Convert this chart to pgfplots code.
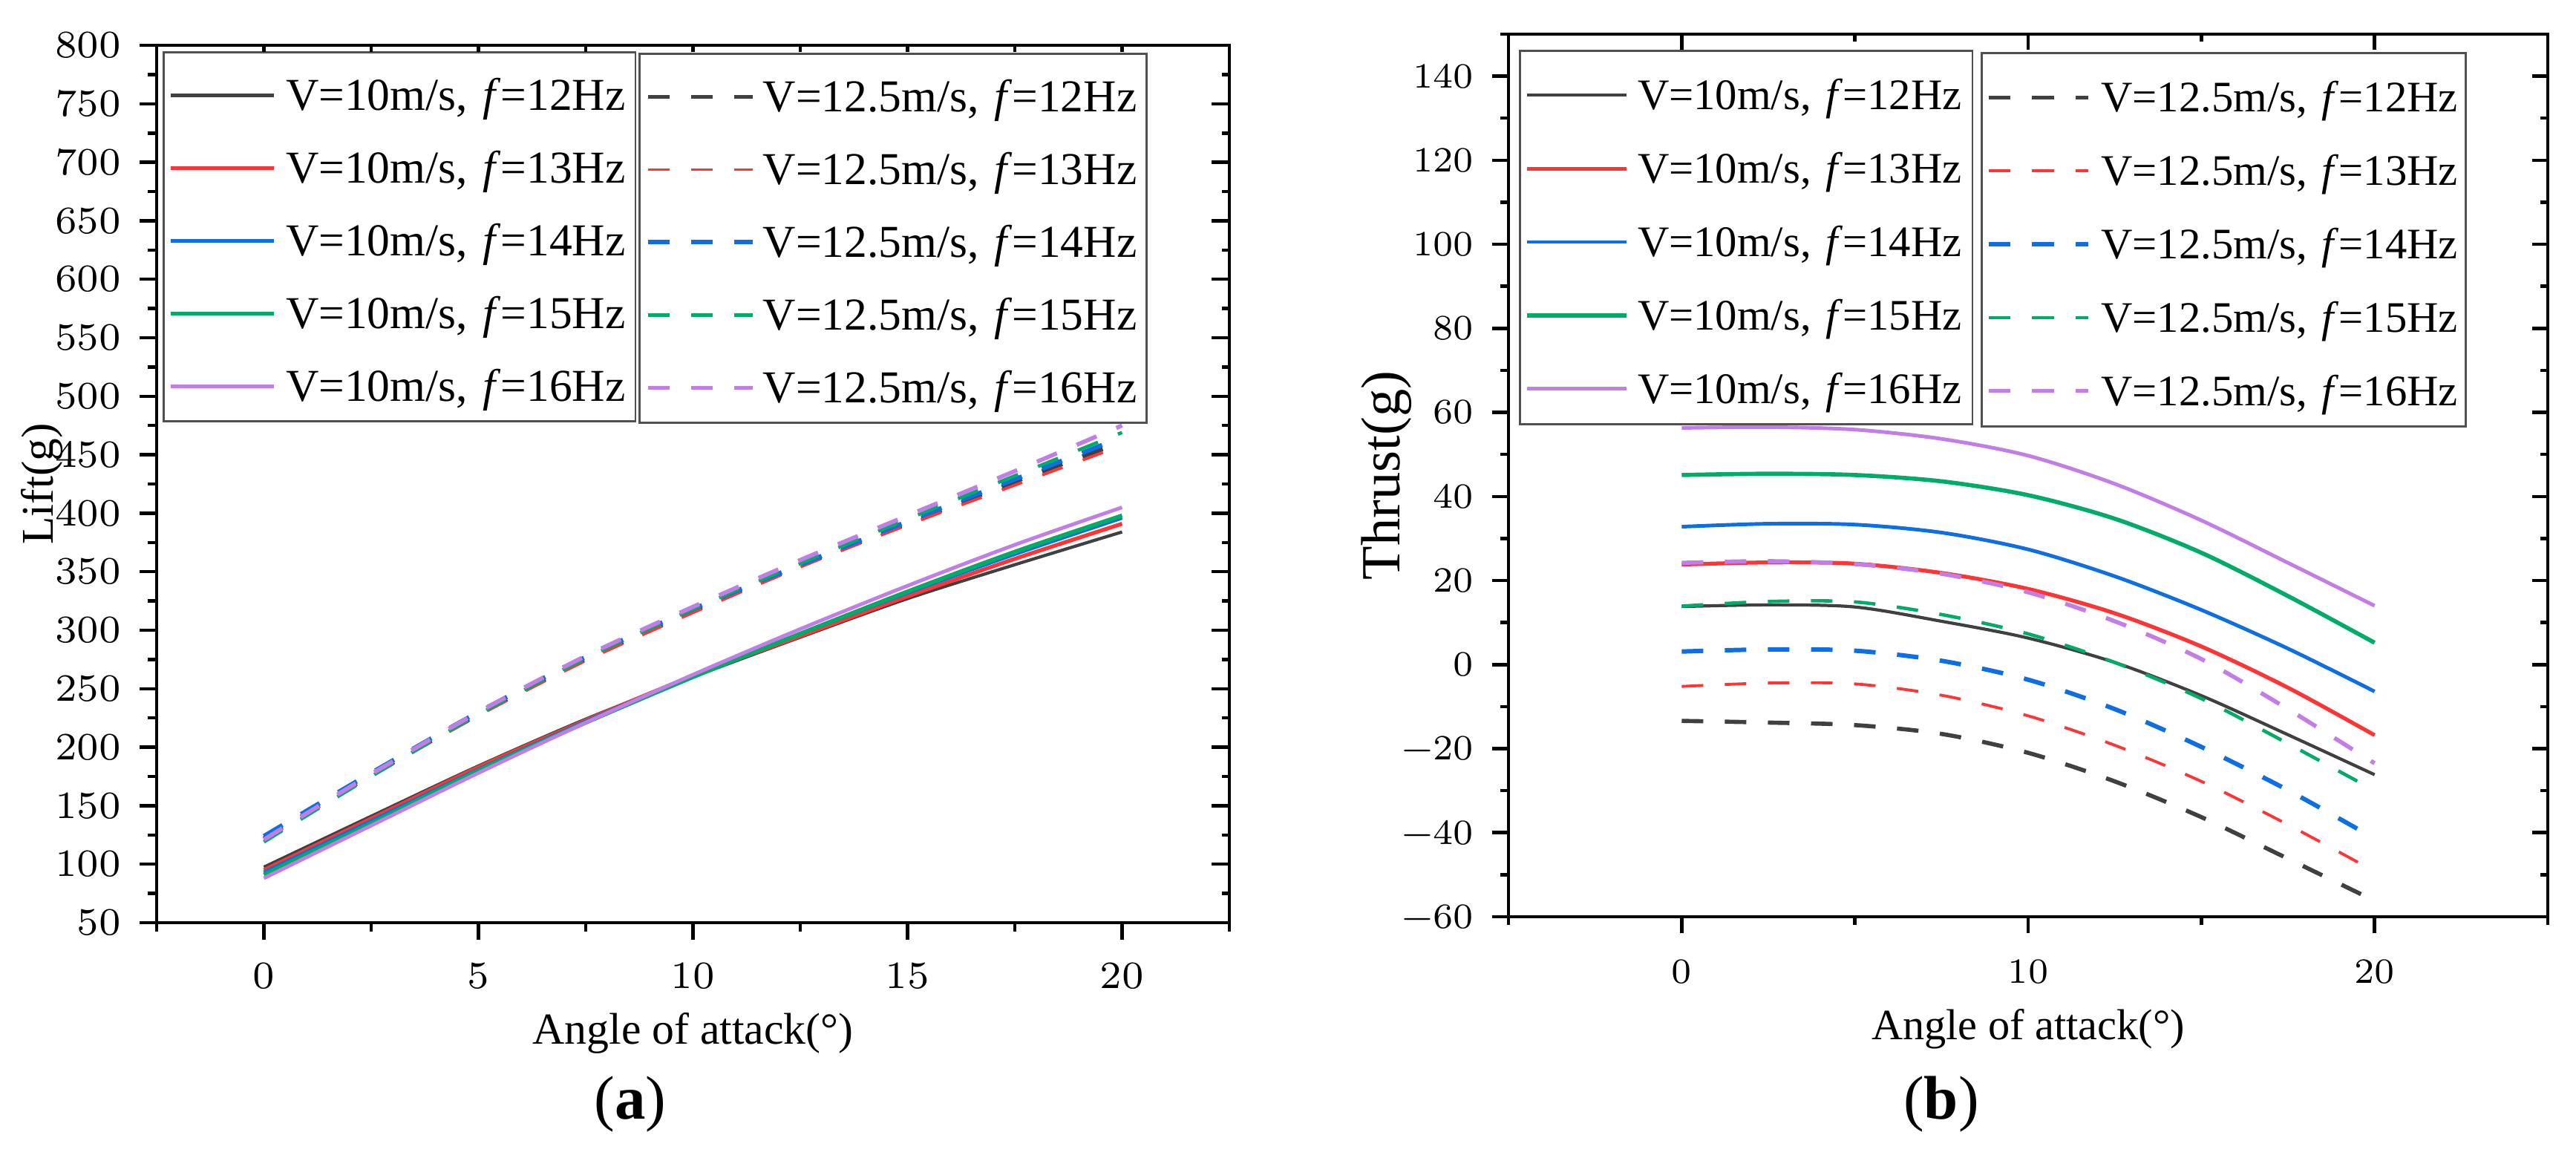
\documentclass[border=0pt]{standalone}
\usepackage{fix-cm}
\usepackage{pgfplots}
\usepackage{pgfplotstable}
\pgfplotsset{compat=1.18}
\usepackage[no-math]{fontspec}
\setmainfont{Liberation Serif}
\newcommand{\lmtick}{\fontfamily{lmr}\selectfont}

\definecolor{cgray}{HTML}{404040}
\definecolor{cred}{HTML}{FF3535}
\definecolor{cblue}{HTML}{0D6FE3}
\definecolor{cgreen}{HTML}{00AC68}
\definecolor{cpurple}{HTML}{C27EE6}
\definecolor{legframe}{HTML}{505050}

\pgfplotstableread{
a s12 s13 s14 s15 s16 d12 d13 d14 d15 d16
0 97.5 95 93 91 88 122 120 124 119 121
2.5 141 139 137 135 133 176 175 178 175 177
5 184 183 181 180 178 228 227 230 228 230
7.5 224 223 222 221 221 275 274 277 276 278
10 260 261 261 260 262 316 315 318 318 320
12.5 294 295 297 297 301 355 354 356 357 360
15 327 329 332 333 338 391 390 393 395 398
17.5 356 361 365 367 373 427 424 429 432 436
20 384 391 396 398 405 461 458 465 469 475
}\lifttable

\pgfplotstableread{
a s12 s13 s14 s15 s16 d12 d13 d14 d15 d16
0 13.8 23.8 32.8 45.1 56.3 -13.4 -5.2 3.1 13.9 24.2
2.5 14.2 24.3 33.5 45.4 56.5 -13.8 -4.4 3.6 15.0 24.6
5 13.7 24.0 33.3 45.1 55.9 -14.4 -4.6 3.3 14.9 23.9
7.5 10.3 21.8 31.4 43.6 53.7 -16.5 -7.3 0.9 11.9 21.6
10 6.3 18.0 27.4 40.3 49.7 -21.0 -12.2 -3.6 7.3 17.2
12.5 0.5 12.2 21.0 34.7 43.0 -27.8 -19.2 -10.6 0.5 10.3
15 -7.4 4.3 13.0 26.6 34.3 -36.3 -27.8 -19.6 -8.1 1.3
17.5 -16.7 -5.5 3.8 16.3 24.2 -46.2 -38.1 -29.9 -18.8 -10.6
20 -26.2 -16.8 -6.4 5.2 14.0 -56.2 -49.2 -41.4 -30.0 -23.5
}\thrusttable

\pgfplotsset{
  base/.style={scale only axis, axis line style={line width=0.65pt,black},
    tick style={line width=0.65pt,black}},
  s12/.style={cgray,line width=0.6pt,smooth},
  s13/.style={cred,line width=0.75pt,smooth},
  s14/.style={cblue,line width=0.7pt,smooth},
  s15/.style={cgreen,line width=0.8pt,smooth},
  s16/.style={cpurple,line width=0.7pt,smooth},
  d12/.style={cgray,line width=0.8pt,smooth,dash pattern=on 4.13pt off 4.13pt},
  d13/.style={cred,line width=0.55pt,smooth,dash pattern=on 4.13pt off 4.13pt},
  d14/.style={cblue,line width=0.85pt,smooth,dash pattern=on 4.13pt off 4.13pt},
  d15/.style={cgreen,line width=0.65pt,smooth,dash pattern=on 4.13pt off 4.13pt},
  d16/.style={cpurple,line width=0.8pt,smooth,dash pattern=on 4.13pt off 4.13pt},
}

\begin{document}
\begin{tikzpicture}
\path[use as bounding box] (0,0) rectangle (17.35cm,7.8cm);

% ================= (a) Lift =================
\begin{axis}[base,
  at={(1.055cm,1.585cm)}, anchor=south west, width=7.225cm, height=5.91cm,
  xmin=-2.5, xmax=22.5, ymin=50, ymax=800,
  xtick={0,5,...,20}, minor xtick={-2.5,2.5,7.5,12.5,17.5,22.5},
  ytick={50,100,...,800}, minor ytick={75,125,...,775},
  tick pos=left, tick align=outside,
  major tick length=0.115cm, minor tick length=0.06cm,
  /pgf/number format/assume math mode=true,
  tick label style={font=\lmtick\fontsize{7.4}{9}\selectfont},
  xticklabel style={yshift=-0.03cm},
  xlabel={Angle of attack(°)}, ylabel={Lift(g)},
  xlabel style={at={(axis description cs:0.5,-0.126)}, anchor=center, font=\fontsize{8.5}{10}\selectfont},
  ylabel style={at={(axis description cs:-0.1066,0.5)}, anchor=center, font=\fontsize{8.7}{10}\selectfont},
  legend image code/.code={\path (0cm,0cm) (0.795cm,0.1cm); \draw[#1] (0.035cm,0.1cm) -- (0.73cm,0.1cm);},
  legend style={at={(axis description cs:0.00554,0.99323)}, anchor=north west,
    draw=legframe, line width=0.4pt, fill=white, inner xsep=0pt, inner ysep=0.0175cm,
    column sep=0pt, row sep=0pt, font=\fontsize{8.75}{10}\selectfont,
    nodes={inner sep=0pt, text height=0.3725cm, text depth=0.1175cm, text width=2.355cm, align=left},
    cells={anchor=base west}},
]
\addplot[s12] table[x=a,y=s12]{\lifttable}; \addlegendentry{V=10m/s, \textit{f}=12Hz}
\addplot[s13] table[x=a,y=s13]{\lifttable}; \addlegendentry{V=10m/s, \textit{f}=13Hz}
\addplot[s14] table[x=a,y=s14]{\lifttable}; \addlegendentry{V=10m/s, \textit{f}=14Hz}
\addplot[s15] table[x=a,y=s15]{\lifttable}; \addlegendentry{V=10m/s, \textit{f}=15Hz}
\addplot[s16] table[x=a,y=s16]{\lifttable}; \addlegendentry{V=10m/s, \textit{f}=16Hz}
\end{axis}

\begin{axis}[base,
  at={(1.055cm,1.585cm)}, anchor=south west, width=7.225cm, height=5.91cm,
  xmin=-2.5, xmax=22.5, ymin=50, ymax=800,
  xtick=\empty, ytick={50,100,...,800}, minor ytick={75,125,...,775},
  yticklabels={}, ytick pos=right, tick align=inside,
  major tick length=0.12cm, minor tick length=0.05cm,
  legend image code/.code={\path (0cm,0cm) (0.8cm,0.1cm); \draw[#1] (0.04cm,0.1cm) -- (0.745cm,0.1cm);},
  legend style={at={(axis description cs:0.44945,0.99153)}, anchor=north west,
    draw=legframe, line width=0.4pt, fill=white, inner xsep=0pt, inner ysep=0.0175cm,
    column sep=0pt, row sep=0pt, font=\fontsize{8.75}{10}\selectfont,
    nodes={inner sep=0pt, text height=0.3725cm, text depth=0.1175cm, text width=2.585cm, align=left},
    cells={anchor=base west}},
]
\addplot[d12] table[x=a,y=d12]{\lifttable}; \addlegendentry{V=12.5m/s, \textit{f}=12Hz}
\addplot[d13] table[x=a,y=d13]{\lifttable}; \addlegendentry{V=12.5m/s, \textit{f}=13Hz}
\addplot[d14] table[x=a,y=d14]{\lifttable}; \addlegendentry{V=12.5m/s, \textit{f}=14Hz}
\addplot[d15] table[x=a,y=d15]{\lifttable}; \addlegendentry{V=12.5m/s, \textit{f}=15Hz}
\addplot[d16] table[x=a,y=d16]{\lifttable}; \addlegendentry{V=12.5m/s, \textit{f}=16Hz}
\end{axis}

\begin{axis}[base,
  at={(1.055cm,1.585cm)}, anchor=south west, width=7.225cm, height=5.91cm,
  xmin=-2.5, xmax=22.5, ymin=50, ymax=800,
  ytick=\empty, xtick={0,2.5,...,20}, xticklabels={},
  xtick pos=right, tick align=inside, major tick length=0.045cm,
]
\end{axis}

% ================= (b) Thrust =================
\begin{axis}[base,
  at={(10.16cm,1.625cm)}, anchor=south west, width=7.0cm, height=5.945cm,
  xmin=-5, xmax=25, ymin=-60, ymax=150,
  xtick={0,10,20}, minor xtick={-5,5,15,25},
  ytick={-60,-40,...,140}, minor ytick={-50,-30,...,150},
  yticklabels={−60,−40,−20,0,20,40,60,80,100,120,140},
  tick pos=left, tick align=outside,
  major tick length=0.1125cm, minor tick length=0.055cm,
  /pgf/number format/assume math mode=true,
  tick label style={font=\lmtick\fontsize{6.8}{8}\selectfont},
  xticklabel style={yshift=-0.05cm},
  xlabel={Angle of attack(°)}, ylabel={Thrust(g)},
  xlabel style={at={(axis description cs:0.5,-0.127)}, anchor=center, font=\fontsize{8.3}{10}\selectfont},
  ylabel style={at={(axis description cs:-0.1171,0.5)}, anchor=center, font=\fontsize{10.6}{12}\selectfont},
  legend image code/.code={\path (0cm,0cm) (0.765cm,0.0975cm); \draw[#1] (0.035cm,0.0975cm) -- (0.705cm,0.0975cm);},
  legend style={at={(axis description cs:0.01,0.98234)}, anchor=north west,
    draw=legframe, line width=0.4pt, fill=white, inner xsep=0pt, inner ysep=0.023cm,
    column sep=0pt, row sep=0pt, font=\fontsize{8.35}{10}\selectfont,
    nodes={inner sep=0pt, text height=0.3745cm, text depth=0.1195cm, text width=2.255cm, align=left},
    cells={anchor=base west}},
]
\addplot[s12] table[x=a,y=s12]{\thrusttable}; \addlegendentry{V=10m/s, \textit{f}=12Hz}
\addplot[s13] table[x=a,y=s13]{\thrusttable}; \addlegendentry{V=10m/s, \textit{f}=13Hz}
\addplot[s14] table[x=a,y=s14]{\thrusttable}; \addlegendentry{V=10m/s, \textit{f}=14Hz}
\addplot[s15] table[x=a,y=s15]{\thrusttable}; \addlegendentry{V=10m/s, \textit{f}=15Hz}
\addplot[s16] table[x=a,y=s16]{\thrusttable}; \addlegendentry{V=10m/s, \textit{f}=16Hz}
\end{axis}

\begin{axis}[base,
  at={(10.16cm,1.625cm)}, anchor=south west, width=7.0cm, height=5.945cm,
  xmin=-5, xmax=25, ymin=-60, ymax=150,
  xtick={0,10,20}, minor xtick={5,15},
  ytick={-60,-40,...,140}, minor ytick={-50,-30,...,130},
  xticklabels={}, yticklabels={},
  xtick pos=right, ytick pos=right, tick align=inside,
  major tick length=0.105cm, minor tick length=0.05cm,
  legend image code/.code={\path (0cm,0cm) (0.775cm,0.0975cm); \draw[#1] (0.035cm,0.0975cm) -- (0.705cm,0.0975cm);},
  legend style={at={(axis description cs:0.45429,0.97981)}, anchor=north west,
    draw=legframe, line width=0.4pt, fill=white, inner xsep=0pt, inner ysep=0.023cm,
    column sep=0pt, row sep=0pt, font=\fontsize{8.35}{10}\selectfont,
    nodes={inner sep=0pt, text height=0.3745cm, text depth=0.1195cm, text width=2.455cm, align=left},
    cells={anchor=base west}},
]
\addplot[d12] table[x=a,y=d12]{\thrusttable}; \addlegendentry{V=12.5m/s, \textit{f}=12Hz}
\addplot[d13] table[x=a,y=d13]{\thrusttable}; \addlegendentry{V=12.5m/s, \textit{f}=13Hz}
\addplot[d14] table[x=a,y=d14]{\thrusttable}; \addlegendentry{V=12.5m/s, \textit{f}=14Hz}
\addplot[d15] table[x=a,y=d15]{\thrusttable}; \addlegendentry{V=12.5m/s, \textit{f}=15Hz}
\addplot[d16] table[x=a,y=d16]{\thrusttable}; \addlegendentry{V=12.5m/s, \textit{f}=16Hz}
\end{axis}

\node[font=\fontsize{11.8}{14}\selectfont] at (4.245cm,0.36cm) {(\textbf{a})};
\node[font=\fontsize{11.8}{14}\selectfont] at (13.075cm,0.36cm) {(\textbf{b})};
\end{tikzpicture}
\end{document}
